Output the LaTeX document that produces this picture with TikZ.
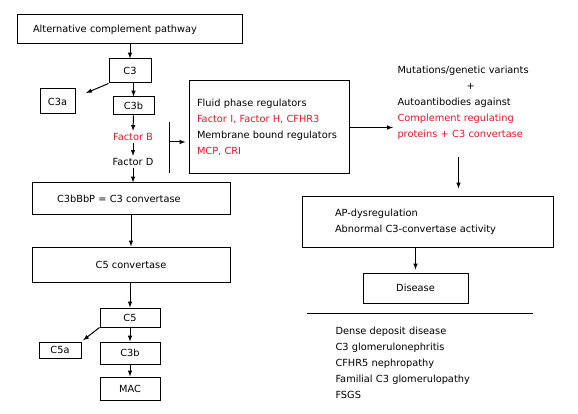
\documentclass[tikz,border=0pt]{standalone}
\usepackage{fontspec}
\setmainfont{DejaVu Sans}
\usetikzlibrary{arrows}
\definecolor{regred}{RGB}{228,22,38}

\begin{document}
\begin{tikzpicture}[x=1pt,y=-1pt,line width=1pt,>=latex,
    font=\fontsize{9.8}{16}\selectfont,
    box/.style={draw, inner sep=0pt},
    flow/.style={->}]
      \useasboundingbox (0,0) rectangle (578,414);
      % left column: the pathway
      \node[name=pathway, box, text width=193pt, inner xsep=16pt, minimum height=29pt, align=left] at (129.5,29.5){Alternative complement pathway};
      \node[name=c3, box, minimum width=42pt, minimum height=24pt] at (130,71){C3};
      \node[name=c3a, box, minimum width=35pt, minimum height=25pt] at (57.5,101.5){C3a};
      \node[name=c3b, box, minimum width=41pt, minimum height=18pt] at (133.5,106){C3b};
      \node[name=fb, text=regred, inner sep=2pt] at (133,137){Factor B};
      \node[name=fd, inner sep=2pt] at (133,162){Factor D};
      \node[name=conv3, box, text width=148pt, inner xsep=25pt, minimum height=32pt, align=left] at (131,199){C3bBbP = C3 convertase};
      \node[name=conv5, box, minimum width=198pt, minimum height=35pt] at (131,264.5){C5 convertase};
      \node[name=c5, box, minimum width=60pt, minimum height=19pt] at (130,317.5){C5};
      \node[name=c5a, box, minimum width=42pt, minimum height=16pt] at (60,350){C5a};
      \node[name=c3bb, box, minimum width=60pt, minimum height=22pt] at (130,353){C3b};
      \node[name=mac, box, minimum width=60pt, minimum height=23pt] at (130,388.5){MAC};
      \coordinate (c3acut) at (86,93);
      \draw[flow] (c3.north |- pathway.south) -- (c3.north);
      \draw[flow] (c3.south west) -- (c3acut);
      \draw[flow] (c3b.north |- c3.south) -- (c3b.north);
      \draw[flow] (c3b.south) -- (fb.north);
      \draw[flow] (fb.south) -- (fd.north);
      \draw[flow] (fd.south) -- (fd.south |- conv3.north);
      \draw[flow] (conv3.south) -- (conv5.north);
      \draw[flow] (c5.north |- conv5.south) -- (c5.north);
      \draw[flow, shorten >=2pt] (c5.south west) -- (c5a.north east);
      \draw[flow] (c5.south) -- (c3bb.north);
      \draw[flow] (c3bb.south) -- (mac.north);
      % regulators
      \node[name=fluid, box, text width=144pt, inner xsep=8pt, minimum height=93pt, align=left] at (269,127.5){Fluid phase regulators\\ \textcolor{regred}{Factor I, Factor H, CFHR3}\\ Membrane bound regulators\\ \textcolor{regred}{MCP, CRI}};
      \draw (169,122) -- (169,173);
      \coordinate (barmid) at (169,142);
      \draw[flow, shorten >=3pt] (barmid) -- (barmid -| fluid.west);
      % right column: dysregulation and disease
      \node[name=cause, anchor=west, text width=150pt, inner sep=0pt, align=left] at (397,103){Mutations/genetic variants\\ \hspace*{69pt}+\\ Autoantibodies against\\ \textcolor{regred}{Complement regulating}\\ \textcolor{regred}{proteins + C3 convertase}};
      \node[name=ap, box, text width=185pt, inner xsep=33pt, minimum height=50pt, align=left] at (427.5,222){AP-dysregulation\\ Abnormal C3-convertase activity};
      \node[name=disease, box, minimum width=105pt, minimum height=30pt] at (415.5,288){Disease};
      \node[name=list, anchor=west, text width=190pt, inner sep=0pt, align=left] at (335,363){Dense deposit disease\\ C3 glomerulonephritis\\ CFHR5 nephropathy\\ Familial C3 glomerulopathy\\ FSGS};
      \draw[flow, shorten >=4pt] (fluid.east) -- (fluid.east -| cause.west);
      \draw[flow, shorten <=17pt, shorten >=8pt] ([xshift=-14pt]cause.south) -- ([xshift=-14pt]cause.south |- ap.north);
      \draw[flow, shorten >=3pt] (disease.north |- ap.south) -- (disease.north);
      \draw (307,313) -- (533,313);
\end{tikzpicture}
\end{document}
